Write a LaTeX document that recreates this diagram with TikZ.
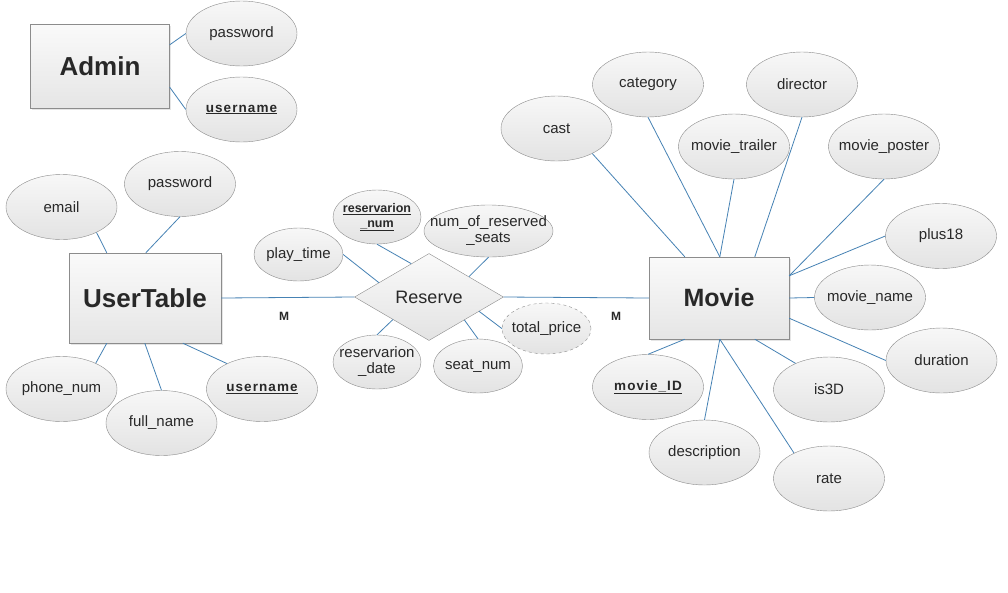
\documentclass[tikz,border=0pt]{standalone}
\usepackage{fontspec}
\setmainfont{Liberation Sans}
\usetikzlibrary{shapes.geometric,shadows}
\definecolor{linec}{RGB}{70,130,180}
\definecolor{bord}{RGB}{140,140,140}
\definecolor{txt}{RGB}{40,40,40}
\newcommand\keyattr[1]{\underline{\bfseries\addfontfeature{LetterSpace=8}#1}}
\newcommand\tx[1]{\makebox[0pt][c]{#1}}
\newcommand\txx[2]{\makebox[0pt][c]{\begin{tabular}{@{}c@{}}#1\\#2\end{tabular}}}
\begin{document}
\begin{tikzpicture}[x=1pt,y=-1pt,
 attr/.style={ellipse, draw=bord, top color=white!97!black, bottom color=white!89!black,
   inner sep=0pt, minimum width=111pt, minimum height=65pt,
   font=\fontsize{15}{16}\selectfont, text=txt},
 sattr/.style={attr, minimum width=88pt, minimum height=54pt},
 ent/.style={rectangle, draw=bord, top color=white!98!black, bottom color=white!90!black,
   inner sep=0pt, font=\fontsize{26}{30}\selectfont\bfseries, text=txt,
   drop shadow={opacity=0.2, shadow xshift=1.5pt, shadow yshift=-1.5pt}},
 rel/.style={diamond, draw=bord, top color=white!98!black, bottom color=white!89!black,
   inner sep=0pt, minimum width=149pt, minimum height=87pt,
   font=\fontsize{18}{20}\selectfont, text=txt},
 conn/.style={draw=linec, line width=0.8pt},
 card/.style={font=\fontsize{12}{14}\selectfont\bfseries, text=txt}]
\useasboundingbox (0,0) rectangle (1008,592);
\fill[white] (0,0) rectangle (1008,592);

% Admin
\node[ent, minimum width=139pt, minimum height=84pt] (ad) at (100,66) {Admin};
\node[attr] (adpw) at (241.5,33.5) {\tx{password}};
\node[attr] (adun) at (241.5,109.5) {\fontsize{13.5}{15}\selectfont\tx{\keyattr{username}}};

% UserTable
\node[ent, minimum width=152pt, minimum height=90pt] (ut) at (145,298) {UserTable};
\node[attr] (em) at (61.5,207) {\tx{email}};
\node[attr] (upw) at (180,184) {\tx{password}};
\node[attr] (ph) at (61.5,389) {\tx{phone\_num}};
\node[attr] (fn) at (161.5,423) {\tx{full\_name}};
\node[attr] (un) at (262,389) {\fontsize{13.5}{15}\selectfont\tx{\keyattr{username}}};

% Reserve
\node[rel] (rs) at (429,297) {Reserve};
\node[sattr, minimum width=89pt, minimum height=53pt] (pt) at (298.5,254.5) {\tx{play\_time}};
\node[sattr] (rn) at (377,217) {\fontsize{12.5}{15}\selectfont\bfseries\txx{\underline{reservarion}}{\underline{\_num}}};
\node[sattr, minimum width=129pt, minimum height=52pt] (nrs) at (488.5,231) {\txx{num\_of\_reserved}{\_seats}};
\node[sattr, minimum width=89pt, minimum height=51pt, dashed] (tp) at (546.5,328.5) {\tx{total\_price}};
\node[sattr] (rd) at (377,362) {\txx{reservarion}{\_date}};
\node[sattr, minimum width=89pt] (sn) at (478,366) {\tx{seat\_num}};

% Movie
\node[ent, minimum width=140pt, minimum height=82pt, font=\fontsize{25}{30}\selectfont\bfseries] (mv) at (719,298) {Movie};
\node[attr] (cast) at (556.5,128.5) {\tx{cast}};
\node[attr] (cat) at (648,84.5) {\tx{category}};
\node[attr] (dir) at (802,84.5) {\tx{director}};
\node[attr] (mt) at (734,146.5) {\tx{movie\_trailer}};
\node[attr] (mp) at (884,146.5) {\tx{movie\_poster}};
\node[attr] (p18) at (941,236) {\tx{plus18}};
\node[attr] (mn) at (870,297.5) {\tx{movie\_name}};
\node[attr] (dur) at (941.5,360.5) {\tx{duration}};
\node[attr] (is3) at (829,389.5) {\tx{is3D}};
\node[attr] (mid) at (648,387) {\fontsize{13.5}{15}\selectfont\tx{\keyattr{movie\_ID}}};
\node[attr] (desc) at (704.5,452.5) {\tx{description}};
\node[attr] (rate) at (829,478.5) {\tx{rate}};

% cardinalities
\node[card] (m1) at (284,316) {M};
\node[card] (m2) at (616,316) {M};

% connectors
\draw[conn] ([yshift=-21pt]ad.north east) -- (adpw.180);
\draw[conn] ([yshift=21pt]ad.south east) -- (adun.180);

\draw[conn] ([xshift=38pt]ut.north west) -- (em.-36);
\draw[conn] ([xshift=77pt]ut.north west) -- (upw.-90);
\draw[conn] ([xshift=38pt]ut.south west) -- (ph.37);
\draw[conn] ([xshift=76pt]ut.south west) -- (fn.90);
\draw[conn] ([xshift=114pt]ut.south west) -- (un.144);
\draw[conn] (ut.east) -- (rs.west);
\draw[conn] (rs.east) -- (mv.west);

\draw[conn] (rs.164) -- (pt.0);
\draw[conn] (rs.118) -- (rn.-90);
\draw[conn] (rs.27) -- (nrs.-90);
\draw[conn] (rs.-16) -- (tp.180);
\draw[conn] (rs.-148) -- (rd.90);
\draw[conn] (rs.-33) -- (sn.90);

\draw[conn] ([xshift=36pt]mv.north west) -- (cast.-35);
\draw[conn] ([xshift=71pt]mv.north west) -- (cat.-90);
\draw[conn] ([xshift=71pt]mv.north west) -- (mt.-90);
\draw[conn] ([xshift=106pt]mv.north west) -- (dir.-90);
\draw[conn] ([yshift=-19pt]mv.north east) -- (mp.-90);
\draw[conn] ([yshift=-19pt]mv.north east) -- (p18.180);
\draw[conn] (mv.east) -- (mn.west);
\draw[conn] ([yshift=21pt]mv.south east) -- (dur.180);
\draw[conn] ([xshift=106pt]mv.south west) -- (is3.142);
\draw[conn] ([xshift=36pt]mv.south west) -- (mid.90);
\draw[conn] ([xshift=71pt]mv.south west) -- (desc.90);
\draw[conn] ([xshift=71pt]mv.south west) -- (rate.144);
\end{tikzpicture}
\end{document}
